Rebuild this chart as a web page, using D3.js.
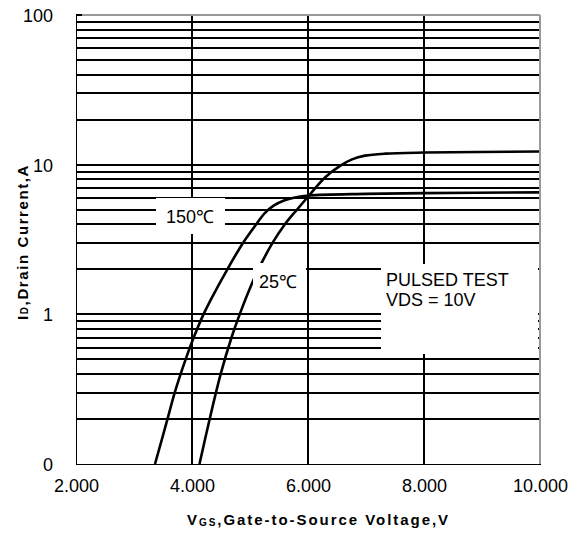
<!DOCTYPE html>
<html><head><meta charset="utf-8">
<script src="https://cdn.jsdelivr.net/npm/d3@7/dist/d3.min.js"></script>
<style>
html,body{margin:0;padding:0;background:#fff;}
svg{display:block;}
text{font-family:"Liberation Sans",Arial,sans-serif;fill:#000;}
</style></head>
<body>
<svg id="c" width="568" height="538"></svg>
<script>
// ---- data ----
const xTicks = [2, 4, 6, 8, 10];
const xTickLabels = ["2.000", "4.000", "6.000", "8.000", "10.000"];
const yTicks = [0.1, 1, 10, 100];
const yTickLabels = ["0", "1", "10", "100"];

const vgs150 = [3.362, 3.578, 3.702, 3.890, 4.029, 4.198, 4.341, 4.610, 4.879, 5.109, 5.259, 5.414, 5.586, 5.776, 6.017, 7.0, 8.0, 10.0];
const id150  = [0.1, 0.2, 0.3, 0.5, 0.7, 1.0, 1.29, 2.0, 3.0, 4.0, 4.76, 5.34, 5.77, 6.04, 6.23, 6.38, 6.45, 6.53];

const vgs25 = [4.129, 4.305, 4.495, 4.681, 4.822, 5.052, 5.172, 5.388, 5.602, 5.809, 6.026, 6.293, 6.552, 6.759, 6.983, 7.328, 8.017, 10.0];
const id25  = [0.1, 0.2, 0.4, 0.7, 1.0, 1.67, 2.1, 3.0, 4.0, 5.0, 6.27, 8.2, 9.82, 10.85, 11.49, 11.85, 12.05, 12.24];

const label150 = "150\u2103";
const label25 = "25\u2103";
const noteLines = ["PULSED TEST", "VDS = 10V"];

// ---- layout ----
const L = 76, R = 540, T = 15, B = 464;
const svg = d3.select("#c");
const x = d3.scaleLinear().domain([2, 10]).range([L, R]);
const y = d3.scaleLog().domain([0.1, 100]).range([B, T]);

const grid = svg.append("g").attr("stroke", "#000").attr("stroke-width", 1.2).attr("shape-rendering", "crispEdges");
// horizontal grid (1..9 per decade)
grid.selectAll("line.h").data(y.ticks().filter(v => v > 0.1 && v < 100)).enter().append("line")
  .attr("x1", L).attr("x2", R).attr("y1", d => Math.round(y(d))).attr("y2", d => Math.round(y(d)));
// vertical grid
grid.selectAll("line.v").data(xTicks.filter(v => v > 2 && v < 10)).enter().append("line")
  .attr("x1", d => Math.round(x(d))).attr("x2", d => Math.round(x(d))).attr("y1", T).attr("y2", B);

// curves
const line = d3.line().x(d => x(d[0])).y(d => y(d[1])).curve(d3.curveCatmullRom.alpha(0.5));
svg.append("path").datum(vgs150.map((v, i) => [v, id150[i]]))
  .attr("d", line).attr("fill", "none").attr("stroke", "#000").attr("stroke-width", 2.6);
svg.append("path").datum(vgs25.map((v, i) => [v, id25[i]]))
  .attr("d", line).attr("fill", "none").attr("stroke", "#000").attr("stroke-width", 2.6);

// label boxes
svg.append("rect").attr("x", 156).attr("y", 198).attr("width", 69).attr("height", 36).attr("fill", "#fff");
svg.append("rect").attr("x", 253).attr("y", 263).attr("width", 53).attr("height", 27).attr("fill", "#fff");
svg.append("rect").attr("x", 381).attr("y", 264).attr("width", 157).attr("height", 90).attr("fill", "#fff");

svg.append("text").attr("x", 166).attr("y", 223).attr("font-size", 18).text(label150);
svg.append("text").attr("x", 259).attr("y", 288).attr("font-size", 18).text(label25);
svg.append("text").attr("x", 386).attr("y", 286).attr("font-size", 18)
  .selectAll("tspan").data(noteLines).enter().append("tspan")
  .attr("x", 386).attr("dy", (d, i) => i === 0 ? 0 : 20).text(d => d);

// borders
svg.append("line").attr("x1", L).attr("x2", R).attr("y1", T).attr("y2", T).attr("stroke", "#999").attr("stroke-width", 1.2).attr("shape-rendering", "crispEdges");
svg.append("line").attr("x1", R).attr("x2", R).attr("y1", T).attr("y2", B).attr("stroke", "#999").attr("stroke-width", 1.2).attr("shape-rendering", "crispEdges");
svg.append("line").attr("x1", L).attr("x2", L + 6).attr("y1", T).attr("y2", T).attr("stroke", "#000").attr("stroke-width", 1.2).attr("shape-rendering", "crispEdges");

// axes
const xAxis = d3.axisBottom(x).tickValues(xTicks).tickSize(0).tickPadding(0)
  .tickFormat((d, i) => xTickLabels[i]);
const gx = svg.append("g").attr("transform", `translate(0,${B})`).call(xAxis);
gx.select(".domain").attr("stroke", "#000").attr("stroke-width", 1.4).attr("shape-rendering", "crispEdges");
gx.selectAll("text").attr("font-size", 18).attr("dy", null).attr("y", 28).attr("font-family", "Liberation Sans, Arial, sans-serif");

const yAxis = d3.axisLeft(y).tickValues(yTicks).tickSize(0).tickPadding(0)
  .tickFormat((d, i) => yTickLabels[i]);
const gy = svg.append("g").attr("transform", `translate(${L},0)`).call(yAxis);
gy.select(".domain").attr("stroke", "#000").attr("stroke-width", 1.4).attr("shape-rendering", "crispEdges");
gy.selectAll("text").attr("font-size", 18).attr("x", -23).attr("dy", "0.36em").attr("font-family", "Liberation Sans, Arial, sans-serif");

// axis titles
const xt = svg.append("text").attr("x", 187).attr("y", 525).attr("font-size", 15).attr("font-weight", "bold").attr("letter-spacing", 1.95);
xt.append("tspan").text("V");
xt.append("tspan").attr("font-size", 10).attr("dy", 1).text("GS");
xt.append("tspan").attr("dy", -1).text(",Gate-to-Source Voltage,V");

const yt = svg.append("text").attr("transform", "translate(28,320) rotate(-90)").attr("font-size", 15).attr("font-weight", "bold").attr("letter-spacing", 1.6);
yt.append("tspan").text("I");
yt.append("tspan").attr("font-size", 10).text("D");
yt.append("tspan").text(",Drain Current,A");
</script>
</body></html>
